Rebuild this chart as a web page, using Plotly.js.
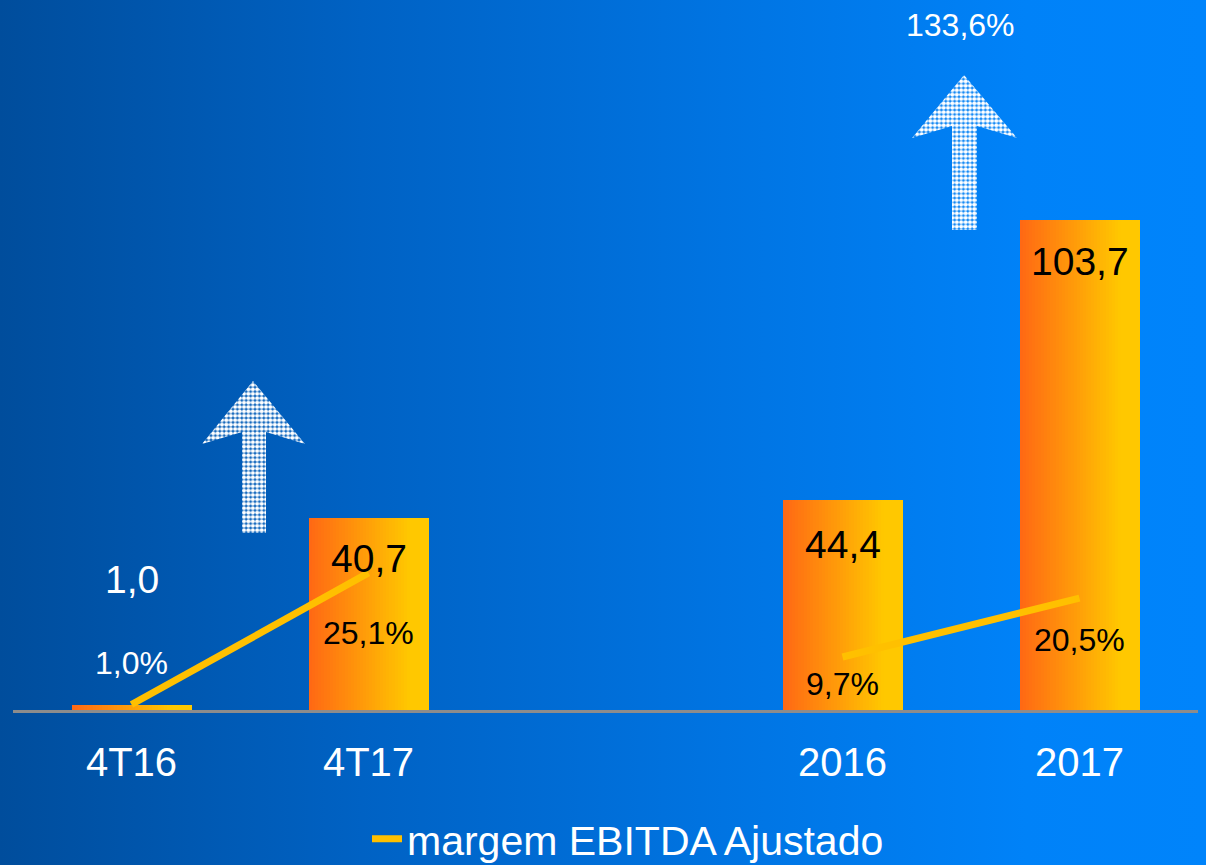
<!DOCTYPE html>
<html>
<head>
<meta charset="utf-8">
<script src="https://cdn.plot.ly/plotly-3.0.1.min.js"></script>
<style>
  html, body { margin: 0; padding: 0; }
  body {
    width: 1206px; height: 865px; overflow: hidden;
    background: linear-gradient(to right, #004d9c 0%, #0062c4 30%, #0074e2 60%, #0082f8 85%, #0084fb 100%);
  }
  #chart { width: 1206px; height: 865px; }
</style>
</head>
<body>
<div id="chart"></div>
<script>
// ---------- data ----------
const categories = ['4T16', '4T17', ' ', '2016', '2017'];
const barCategories = ['4T16', '4T17', '2016', '2017'];
const ebitdaValues = [1.0, 40.7, 44.4, 103.7];
const ebitdaLabels = ['1,0', '40,7', '44,4', '103,7'];
const marginValues = [1.0, 25.1, null, 9.7, 20.5];
const marginLabels = ['1,0%', '25,1%', '', '9,7%', '20,5%'];
const growthLabel = '133,6%';
const seriesName = 'margem EBITDA Ajustado';

// ---------- style ----------
const FONT = 'Liberation Sans, Arial, sans-serif';
const barWidth = 0.506;
const strips = 40;
const orange = [255, 104, 20];
const yellow = [255, 200, 0];
const valueShift = [126, -41, -44, -41];        // label offsets (px) from bar top
const valueColor = ['#ffffff', '#000000', '#000000', '#000000'];
const marginShift = [42, -60, 0, -27, -42];      // label offsets (px) from line point
const marginColor = ['#ffffff', '#000000', '', '#000000', '#000000'];

function mix(t) {
  const u = Math.min(1, t / 0.85);
  const c = orange.map((o, k) => Math.round(o + (yellow[k] - o) * u));
  return 'rgb(' + c.join(',') + ')';
}
// category index (numeric) so numeric-looking names are not taken as positions
const idx = c => categories.indexOf(c);

const traces = [];
for (let i = 0; i < strips; i++) {
  const w = barWidth / strips;
  traces.push({
    type: 'bar',
    x: barCategories,
    y: ebitdaValues,
    width: w * 1.15,
    offset: -barWidth / 2 + i * w,
    marker: { color: mix((i + 0.5) / strips), line: { width: 0 } },
    showlegend: false,
    hoverinfo: 'skip'
  });
}

// decorative dotted arrows (pixel overlay axes)
const arrows = [
  { x: [253, 305, 266, 266, 242, 242, 202, 253], y: [381, 444, 432, 533, 533, 432, 444, 381] },
  { x: [964, 1017, 977, 977, 952, 952, 912, 964], y: [75, 138, 126, 230, 230, 126, 138, 75] }
];
arrows.forEach(a => {
  traces.push({
    type: 'scatter', mode: 'lines', x: a.x, y: a.y, xaxis: 'x3', yaxis: 'y3',
    fill: 'toself', fillcolor: 'rgba(255,255,255,0.15)',
    fillpattern: { shape: '.', fgcolor: '#ffffff', bgcolor: 'rgba(0,0,0,0)', size: 4.4, solidity: 0.7 },
    line: { width: 0, color: 'rgba(0,0,0,0)' },
    showlegend: false, hoverinfo: 'skip'
  });
});

traces.push({
  type: 'scatter', mode: 'lines', name: seriesName,
  x: categories, y: marginValues, yaxis: 'y2',
  connectgaps: false,
  line: { color: '#ffc000', width: 7 },
  hoverinfo: 'skip'
});

const annotations = [];
barCategories.forEach((c, i) => {
  annotations.push({
    x: idx(c), y: ebitdaValues[i], xref: 'x', yref: 'y',
    text: ebitdaLabels[i], showarrow: false, xanchor: 'center', yanchor: 'middle', yshift: valueShift[i],
    font: { family: FONT, size: 39, color: valueColor[i] }
  });
});
categories.forEach((c, i) => {
  if (marginValues[i] === null) return;
  annotations.push({
    x: i, y: marginValues[i], xref: 'x', yref: 'y2',
    text: marginLabels[i], showarrow: false, xanchor: 'center', yanchor: 'middle', yshift: marginShift[i],
    font: { family: FONT, size: 32, color: marginColor[i] }
  });
});
annotations.push({
  x: 960 / 1206, y: 1 - 25 / 710, xref: 'paper', yref: 'paper',
  text: growthLabel, showarrow: false, xanchor: 'center', yanchor: 'middle',
  font: { family: FONT, size: 32, color: '#ffffff' }
});

const layout = {
  width: 1206, height: 865,
  margin: { l: 0, r: 0, t: 0, b: 155, autoexpand: false },
  paper_bgcolor: 'rgba(0,0,0,0)', plot_bgcolor: 'rgba(0,0,0,0)',
  barmode: 'overlay', bargap: 0,
  hovermode: false,
  font: { family: FONT, color: '#ffffff' },
  showlegend: true,
  legend: {
    orientation: 'h', x: 367 / 1206, xanchor: 'left', y: 1 - 839 / 710, yanchor: 'middle',
    font: { family: FONT, size: 41, color: '#ffffff' }, bgcolor: 'rgba(0,0,0,0)'
  },
  xaxis: {
    type: 'category', categoryorder: 'array', categoryarray: categories,
    range: [-0.5, 4.5], domain: [13 / 1206, 1198 / 1206],
    showline: true, linecolor: '#8c8c8c', linewidth: 3, mirror: false,
    showgrid: false, zeroline: false, ticks: '',
    tickfont: { family: FONT, size: 40, color: '#ffffff' },
    ticklabelstandoff: 15, fixedrange: true, automargin: false
  },
  yaxis: { range: [0, 150.3], visible: false, fixedrange: true, showgrid: false, zeroline: false },
  yaxis2: { overlaying: 'y', range: [0, 130], visible: false, showgrid: false, zeroline: false, fixedrange: true },
  xaxis3: { overlaying: 'x', range: [13, 1198], visible: false, showgrid: false, zeroline: false, fixedrange: true },
  yaxis3: { overlaying: 'y', range: [710, 0], visible: false, showgrid: false, zeroline: false, fixedrange: true },
  annotations: annotations
};

Plotly.newPlot('chart', traces, layout, { displayModeBar: false, staticPlot: true });
</script>
</body>
</html>
